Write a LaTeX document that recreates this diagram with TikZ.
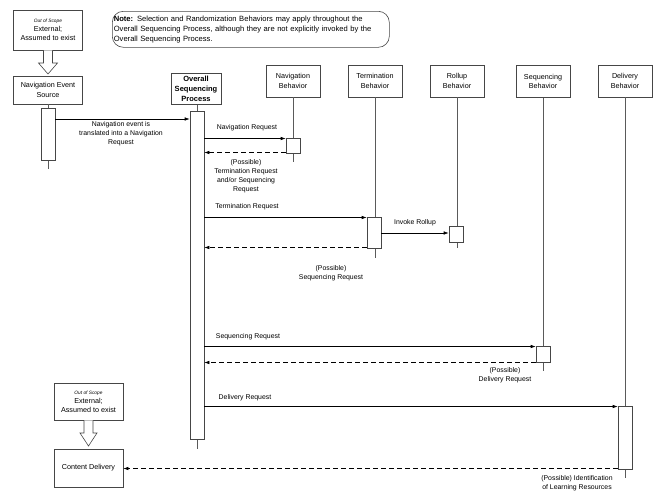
\documentclass[tikz,border=0pt]{standalone}
\usepackage{fontspec}
\setmainfont{Liberation Sans}
\usetikzlibrary{arrows.meta}
\definecolor{boxgray}{RGB}{70,70,70}
\definecolor{linegray}{RGB}{90,90,90}
\begin{document}
\begin{tikzpicture}[x=1pt,y=-1pt,
  box/.style={draw=boxgray, line width=0.6pt, fill=white, align=center,
    font=\fontsize{7.2}{9.2}\selectfont, inner sep=0pt},
  act/.style={draw=boxgray, line width=0.6pt, fill=white, minimum width=14pt, inner sep=0pt},
  life/.style={draw=linegray, line width=0.6pt},
  msg/.style={-{Latex[length=5pt,width=3.5pt]}, line width=0.6pt},
  ret/.style={msg, dash pattern=on 5pt off 3pt},
  lbl/.style={font=\fontsize{6.9}{8.9}\selectfont, align=center, inner sep=0pt},
  hollow/.style={draw=boxgray, line width=0.6pt, fill=white, line join=miter}
]
\useasboundingbox (0,0) rectangle (667,501);

% note
\node[draw=boxgray, line width=0.6pt, rounded corners=11pt, text width=274pt, minimum height=36pt,
  align=left, inner xsep=1.5pt, inner ysep=2.5pt, anchor=north west, font=\fontsize{7.6}{9.8}\selectfont] (note) at (112,11)
  {\textbf{Note:} Selection and Randomization Behaviors may apply throughout the\\
   Overall Sequencing Process, although they are not explicitly invoked by the\\
   Overall Sequencing Process.};

% out of scope (top)
\node[box, minimum width=69pt, minimum height=40pt] (oosA) at (48,30)
  {{\fontsize{4.8}{6}\selectfont\itshape Out of Scope}\\External;\\Assumed to exist};
\node[box, minimum width=69pt, minimum height=28pt] (navsrc) at (48,90) {Navigation Event\\Source};
\draw[hollow] ([xshift=-4.5pt]oosA.south) -- ([xshift=-4.5pt]oosA.south |- 0,63) -- ([xshift=-9.5pt]oosA.south |- 0,63)
  -- (navsrc.north |- 0,74) -- ([xshift=9.5pt]oosA.south |- 0,63) -- ([xshift=4.5pt]oosA.south |- 0,63)
  -- ([xshift=4.5pt]oosA.south);

% lifeline heads
\node[box, minimum width=50pt, minimum height=31pt, font=\fontsize{7.5}{9.8}\selectfont\bfseries] (osp) at (196,89)
  {Overall\\Sequencing\\Process};
\node[box, minimum width=54pt, minimum height=32pt] (navb) at (293,81) {Navigation\\Behavior};
\node[box, minimum width=54pt, minimum height=32pt] (termb) at (375,81) {Termination\\Behavior};
\node[box, minimum width=54pt, minimum height=32pt] (rollb) at (457,81) {Rollup\\Behavior};
\node[box, minimum width=54pt, minimum height=32pt] (seqb) at (543,81.5) {Sequencing\\Behavior};
\node[box, minimum width=54pt, minimum height=32pt] (delb) at (625,81) {Delivery\\Behavior};

% lifeline ends
\coordinate (navsrcE) at (48,169);
\coordinate (ospE) at (197,449);
\coordinate (navE) at (293,162);
\coordinate (termE) at (375,258);
\coordinate (rollE) at (457,248);
\coordinate (seqE) at (543,371);
\coordinate (delE) at (625,478);

\draw[life] (navsrc.south) -- (navsrcE);
\draw[life] (osp.south -| ospE) -- (ospE);
\draw[life] (navb.south) -- (navE);
\draw[life] (termb.south) -- (termE);
\draw[life] (rollb.south) -- (rollE);
\draw[life] (seqb.south) -- (seqE);
\draw[life] (delb.south) -- (delE);

% activations
\node[act, minimum height=52pt, anchor=north] (navsrcA) at (48,108) {};
\node[act, minimum height=328pt, anchor=north] (ospA) at (197,111) {};
\node[act, minimum height=15pt, anchor=north] (navA) at (293,138) {};
\node[act, minimum height=31pt, anchor=north] (termA) at (374,217) {};
\node[act, minimum height=16pt, anchor=north] (rollA) at (456,226) {};
\node[act, minimum height=16pt, anchor=north] (seqA) at (543,346) {};
\node[act, minimum height=63pt, anchor=north] (delA) at (625,406) {};

% message levels
\coordinate (y1) at (0,119);
\coordinate (y2) at (0,138.5);
\coordinate (y3) at (0,152.5);
\coordinate (y4) at (0,217.5);
\coordinate (y5) at (0,233);
\coordinate (y6) at (0,247.5);
\coordinate (y7) at (0,346.5);
\coordinate (y8) at (0,362.5);
\coordinate (y9) at (0,406.5);
\coordinate (y10) at (0,468.5);

\draw[msg] (navsrcA.east |- y1) -- (ospA.west |- y1);
\node[lbl] (l1) at (121,133.5) {Navigation event is\\translated into a Navigation\\Request};

\draw[msg] (ospA.east |- y2) -- (navA.west |- y2);
\node[lbl] (l2) at (247,128) {Navigation Request};
\draw[ret] (navA.west |- y3) -- (ospA.east |- y3);
\node[lbl] (l3) at (246,176) {(Possible)\\Termination Request\\and/or Sequencing\\Request};

\draw[msg] (ospA.east |- y4) -- (termA.west |- y4);
\node[lbl] (l4) at (247,207) {Termination Request};
\draw[msg] (termA.east |- y5) -- (rollA.west |- y5);
\node[lbl] (l5) at (415,223) {Invoke Rollup};
\draw[ret] (termA.west |- y6) -- (ospA.east |- y6);
\node[lbl] (l6) at (331,273) {(Possible)\\Sequencing Request};

\draw[msg] (ospA.east |- y7) -- (seqA.west |- y7);
\node[lbl] (l7) at (248,337) {Sequencing Request};
\draw[ret] (seqA.west |- y8) -- (ospA.east |- y8);
\node[lbl] (l8) at (505,375.5) {(Possible)\\Delivery Request};

\draw[msg] (ospA.east |- y9) -- (delA.west |- y9);
\node[lbl] (l9) at (245,398) {Delivery Request};

% bottom out of scope
\node[box, minimum width=69pt, minimum height=37pt] (oosB) at (88.5,401.5)
  {{\fontsize{4.8}{6}\selectfont\itshape Out of Scope}\\External;\\Assumed to exist};
\node[box, minimum width=69pt, minimum height=38pt] (cd) at (88.5,468) {Content Delivery};
\draw[hollow] ([xshift=-4.5pt]oosB.south) -- ([xshift=-4.5pt]oosB.south |- 0,433) -- ([xshift=-8.5pt]oosB.south |- 0,433)
  -- (cd.north |- 0,446) -- ([xshift=8.5pt]oosB.south |- 0,433) -- ([xshift=4.5pt]oosB.south |- 0,433)
  -- ([xshift=4.5pt]oosB.south);

\draw[ret] (delA.west |- y10) -- (cd.east |- y10);
\node[lbl] (l10) at (577,483.5) {(Possible) Identification\\of Learning Resources};
\end{tikzpicture}
\end{document}
